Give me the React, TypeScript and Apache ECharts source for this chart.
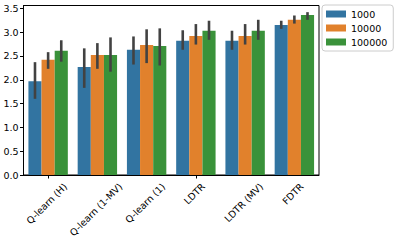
import React, { useEffect, useRef } from "react";
import * as echarts from "echarts";

const categories = ["Q-learn (H)", "Q-learn (1-MV)", "Q-learn (1)", "LDTR", "LDTR (MV)", "FDTR"];
const seriesNames = ["1000", "10000", "100000"];
const colors = ["#3274a1", "#e1812c", "#3a923a"];
const values1000 = [1.97, 2.27, 2.63, 2.82, 2.82, 3.15];
const values10000 = [2.42, 2.52, 2.73, 2.92, 2.92, 3.26];
const values100000 = [2.61, 2.52, 2.71, 3.03, 3.03, 3.36];
const low1000 = [1.6, 1.83, 2.32, 2.63, 2.63, 3.07];
const high1000 = [2.37, 2.66, 2.91, 3.04, 3.03, 3.24];
const low10000 = [2.23, 2.23, 2.35, 2.74, 2.74, 3.18];
const high10000 = [2.58, 2.77, 3.06, 3.17, 3.17, 3.35];
const low100000 = [2.38, 2.17, 2.3, 2.84, 2.84, 3.26];
const high100000 = [2.83, 2.89, 3.08, 3.24, 3.26, 3.42];
const yTicks = [0, 0.5, 1.0, 1.5, 2.0, 2.5, 3.0, 3.5];

const FONT = "DejaVu Sans";
const FS = 9.5;

export default function App() {
  const ref = useRef<HTMLDivElement>(null);
  useEffect(() => {
    document.body.style.margin = "0";
    if (!ref.current) return;
    const chart = echarts.init(ref.current, undefined, { renderer: "svg" });
    const vals = [values1000, values10000, values100000];
    const lows = [low1000, low10000, low100000];
    const highs = [high1000, high10000, high100000];
    const barSeries = vals.map((v, i) => ({
      name: seriesNames[i],
      type: "bar",
      data: v,
      itemStyle: { color: colors[i] },
      barGap: "0%",
      barCategoryGap: "20%",
    }));
    const errSeries = vals.map((_, i) => ({
      type: "custom",
      name: "err" + i,
      data: categories.map((_, k) => [k, lows[i][k], highs[i][k]]),
      renderItem: (params: any, api: any) => {
        const k = api.value(0);
        const lo = api.coord([k, api.value(1)]);
        const hi = api.coord([k, api.value(2)]);
        const cw = api.size([1, 0])[0];
        const bw = (cw * 0.8) / 3;
        const x = lo[0] + (i - 1) * bw;
        return {
          type: "line",
          shape: { x1: x, y1: lo[1], x2: x, y2: hi[1] },
          style: { stroke: "#424242", lineWidth: 2.6 },
        };
      },
      z: 10,
      silent: true,
    }));
    chart.setOption({
      animation: false,
      textStyle: { fontFamily: FONT },
      grid: {
        left: 23.5,
        right: 81,
        top: 5.5,
        bottom: 67,
        show: true,
        borderColor: "#000",
        borderWidth: 1,
        outerBoundsMode: "none",
      },
      legend: {
        data: seriesNames,
        orient: "vertical",
        left: 322,
        top: 5,
        itemWidth: 20,
        itemHeight: 7,
        itemGap: 4,
        padding: [4, 6, 4, 4],
        borderColor: "#cccccc",
        borderWidth: 1,
        borderRadius: 3,
        textStyle: { fontSize: FS, color: "#000", fontFamily: FONT },
        icon: "rect",
      },
      xAxis: {
        type: "category",
        data: categories,
        axisLine: { show: true, lineStyle: { color: "#000", width: 1 } },
        axisTick: { show: true, alignWithLabel: true, length: 3.5, lineStyle: { color: "#000" } },
        axisLabel: { show: false },
      },
      yAxis: {
        type: "value",
        min: 0,
        max: 3.56,
        interval: 0.5,
        splitLine: { show: false },
        axisLine: { show: true, lineStyle: { color: "#000", width: 1 } },
        axisTick: { show: true, length: 3.5, lineStyle: { color: "#000" } },
        axisLabel: {
          fontSize: FS,
          color: "#000",
          margin: 5,
          showMaxLabel: false,
          formatter: (v: number) => (yTicks.includes(v) ? v.toFixed(1) : ""),
        },
      },
      series: [...barSeries, ...errSeries],
    });

    const ctx = document.createElement("canvas").getContext("2d");
    if (ctx) ctx.font = `${FS}px "${FONT}"`;
    const c45 = Math.SQRT1_2;
    const labels = categories.map((name, k) => {
      const p = chart.convertToPixel({ gridIndex: 0 }, [k, 0]) as number[];
      const L = ctx ? ctx.measureText(name).width : name.length * 5.5;
      const half = ((L + FS) * c45) / 2;
      return {
        type: "text",
        x: p[0] - 1.5,
        y: p[1] + 6.5 + half,
        rotation: Math.PI / 4,
        style: {
          text: name,
          fontSize: FS,
          fontFamily: FONT,
          fill: "#000",
          align: "center",
          verticalAlign: "middle",
        },
        silent: true,
      };
    });
    chart.setOption({ graphic: labels });
    return () => chart.dispose();
  }, []);
  return <div ref={ref} style={{ width: 400, height: 242 }} />;
}
